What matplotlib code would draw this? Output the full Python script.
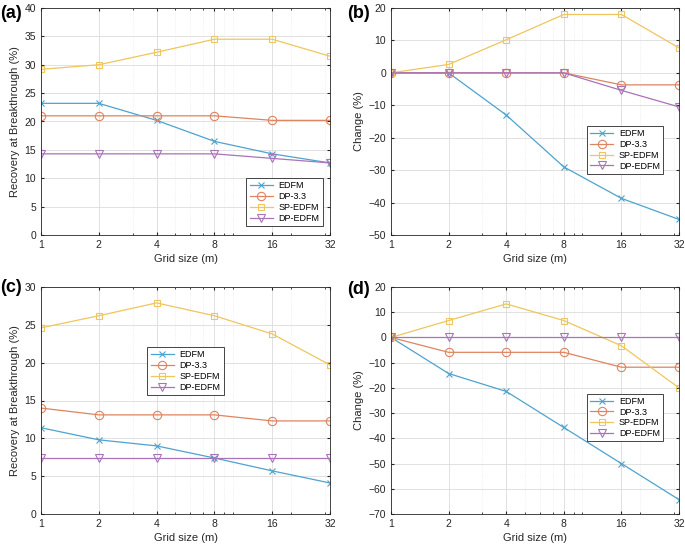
import numpy as np
import matplotlib.pyplot as plt
from matplotlib.ticker import FixedLocator, NullFormatter

plt.rcParams.update({
    'font.family': 'sans-serif',
    'font.sans-serif': ['Liberation Sans', 'DejaVu Sans'],
    'font.size': 7.5,
    'axes.linewidth': 0.6,
    'axes.edgecolor': '#262626',
    'xtick.direction': 'in',
    'ytick.direction': 'in',
    'xtick.major.size': 2.5,
    'ytick.major.size': 2.5,
    'xtick.minor.size': 1.5,
})

# --- Data ---
grid_size = [1, 2, 4, 8, 16, 32]
series = ['EDFM', 'DP-3.3', 'SP-EDFM', 'DP-EDFM']

a_edfm = [23.2, 23.2, 20.2, 16.5, 14.3, 12.7]
a_dp33 = [21.0, 21.0, 21.0, 21.0, 20.2, 20.2]
a_sp = [29.2, 30.0, 32.2, 34.5, 34.5, 31.5]
a_dpe = [14.3, 14.3, 14.3, 14.3, 13.5, 12.7]

b_edfm = [0, 0, -13.0, -29.0, -38.7, -45.2]
b_dp33 = [0, 0, 0, 0, -3.7, -3.7]
b_sp = [0, 2.6, 10.2, 18.0, 18.0, 7.7]
b_dpe = [0, 0, 0, 0, -5.4, -10.5]

c_edfm = [11.4, 9.8, 9.0, 7.4, 5.7, 4.1]
c_dp33 = [14.0, 13.1, 13.1, 13.1, 12.3, 12.3]
c_sp = [24.6, 26.2, 27.9, 26.2, 23.8, 19.7]
c_dpe = [7.4, 7.4, 7.4, 7.4, 7.4, 7.4]

d_edfm = [0, -14.3, -21.4, -35.7, -50.0, -64.3]
d_dp33 = [0, -5.9, -5.9, -5.9, -11.8, -11.8]
d_sp = [0, 6.7, 13.3, 6.7, -3.3, -20.0]
d_dpe = [0, 0, 0, 0, 0, 0]

# --- Style ---
COLORS = ['#4DA3CF', '#DE8460', '#EEC65C', '#A873B8']
MARKERS = ['x', 'o', 's', 'v']
MSIZES = [4, 6, 5, 6]
MINOR_X = [3, 5, 6, 7, 9, 10, 20, 30]
W, H = 685, 546


def draw_panel(ax, data, ylim, yticks, ylabel, letter, letter_xy, legend_kw):
    for vals, name, c, m, ms in zip(data, series, COLORS, MARKERS, MSIZES):
        ax.plot(grid_size, vals, color=c, marker=m, markersize=ms,
                markerfacecolor='none', markeredgewidth=0.8,
                linewidth=0.9, label=name)
    ax.set_xscale('log')
    ax.set_xlim(1, 32)
    ax.xaxis.set_major_locator(FixedLocator(grid_size))
    ax.set_xticklabels([str(g) for g in grid_size])
    ax.xaxis.set_minor_locator(FixedLocator(MINOR_X))
    ax.xaxis.set_minor_formatter(NullFormatter())
    ax.set_ylim(*ylim)
    ax.set_yticks(yticks)
    ax.grid(True, which='major', color='#DCDCDC', linewidth=0.6)
    ax.grid(True, which='minor', axis='x', color='#E6E6E6',
            linewidth=0.5, linestyle=':')
    ax.set_axisbelow(True)
    ax.tick_params(which='both', top=True, right=True, colors='#262626',
                   labelsize=7.5)
    ax.set_xlabel('Grid size (m)', fontsize=8, color='#262626', labelpad=3)
    ax.set_ylabel(ylabel, fontsize=8, color='#262626', labelpad=3)
    fig.text(letter_xy[0] / W, 1 - letter_xy[1] / H, letter, fontsize=13,
             fontweight='bold', ha='left', va='center')
    leg = ax.legend(fontsize=6.5, fancybox=False, framealpha=1,
                    edgecolor='#262626', handlelength=2.6, handletextpad=0.6,
                    borderpad=0.35, labelspacing=0.2, **legend_kw)
    leg.get_frame().set_linewidth(0.6)


fig = plt.figure(figsize=(6.85, 5.46), dpi=100)
ax_a = fig.add_axes([41 / W, 1 - 235 / H, 289 / W, 227 / H])
ax_b = fig.add_axes([391 / W, 1 - 235 / H, 288 / W, 227 / H])
ax_c = fig.add_axes([41 / W, 1 - 514 / H, 289 / W, 227 / H])
ax_d = fig.add_axes([391 / W, 1 - 514 / H, 288 / W, 227 / H])

draw_panel(ax_a, [a_edfm, a_dp33, a_sp, a_dpe], (0, 40), range(0, 41, 5),
           'Recovery at Breakthrough (%)', '(a)', (0, 13),
           dict(loc='lower right', bbox_to_anchor=(0.99, 0.02)))
draw_panel(ax_b, [b_edfm, b_dp33, b_sp, b_dpe], (-50, 20), range(-50, 21, 10),
           'Change (%)', '(b)', (347, 13),
           dict(loc='center right', bbox_to_anchor=(0.96, 0.375)))
draw_panel(ax_c, [c_edfm, c_dp33, c_sp, c_dpe], (0, 30), range(0, 31, 5),
           'Recovery at Breakthrough (%)', '(c)', (0, 287),
           dict(loc='center', bbox_to_anchor=(0.5, 0.63)))
draw_panel(ax_d, [d_edfm, d_dp33, d_sp, d_dpe], (-70, 20), range(-70, 21, 10),
           'Change (%)', '(d)', (347, 289),
           dict(loc='center right', bbox_to_anchor=(0.96, 0.425)))

fig.savefig('out.png', dpi=100, facecolor='white')
